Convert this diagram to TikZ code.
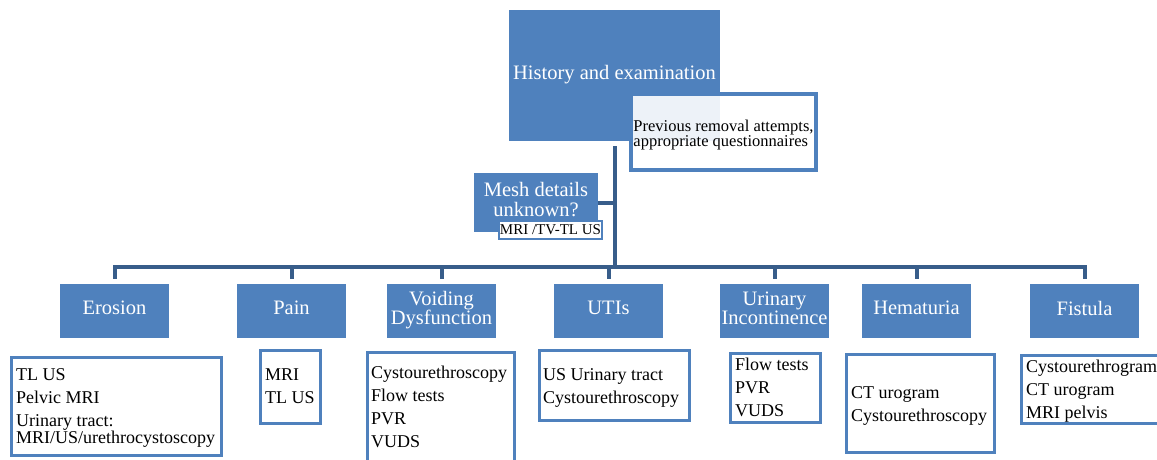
\documentclass[tikz,border=0pt]{standalone}
\usepackage{fontspec}
\setmainfont{Liberation Serif}
\definecolor{boxblue}{RGB}{79,129,189}
\definecolor{linkblue}{RGB}{56,93,138}
\tikzset{
  topic/.style={fill=boxblue, text=white, align=center, inner sep=0pt,
    font=\fontsize{20.5}{19.5}\selectfont, execute at end node={\rule[-6pt]{0pt}{6pt}}},
  testbox/.style={draw=boxblue, line width=3.5pt, fill=white, inner sep=0pt},
  testlist/.style={anchor=north west, align=left, inner sep=0pt,
    font=\fontsize{18}{23}\selectfont},
  link/.style={draw=linkblue, line width=4pt},
}
\begin{document}
\begin{tikzpicture}[x=1pt, y=-1pt]
   \useasboundingbox (0,0) rectangle (1157,459);
   \clip (0,0) rectangle (1157,459);
   % top of the tree
   \node[topic, minimum width=211pt, minimum height=131pt] (hist) at (614.5,75.5) {History and examination};
   \node[testbox, fill opacity=0.9, text opacity=1, minimum width=185pt, minimum height=76pt, align=left,
     font=\fontsize{16.5}{15.5}\selectfont] (prev) at (723.5,132) {\rule{0pt}{18pt}Previous removal attempts,\\appropriate questionnaires};
   \coordinate (bar) at (614.5,267);
   \draw[link] ([yshift=-5pt]hist.south) -- (bar);
   % mesh details
   \node[topic, minimum width=124pt, minimum height=59pt] (mesh) at (536,202.5) {Mesh details\\unknown?};
   \node[draw=boxblue, line width=2.5pt, fill=white, inner sep=1pt, minimum width=102pt, minimum height=18pt,
     font=\fontsize{15}{15}\selectfont] (meshtest) at (550.5,230) {MRI /TV-TL US};
   \draw[link] (mesh.east |- 0,203) -- (bar |- 0,203);
   % second row
   \foreach \name/\x/\txt in {ero/114.5/Erosion, pain/291.5/Pain, void/441.5/{Voiding\\Dysfunction},
       uti/608.5/UTIs, urin/774.5/{Urinary\\Incontinence}, hema/916.5/Hematuria, fist/1084.5/Fistula}
   {
     \node[topic, minimum width=109pt, minimum height=54pt] (\name) at (\x,311) {\txt};
     \draw[link] (bar) -| ([yshift=5pt]\name.north);
   }
   % tests
   \node[testbox, minimum width=210pt, minimum height=98pt] (erotest) at (116.5,406.5) {};
   \node[testlist] (erolist) at (16,368) {TL US\\Pelvic MRI\\Urinary tract:\\[-6pt]MRI/US/urethrocystoscopy};
   \node[testbox, minimum width=60pt, minimum height=73pt] (paintest) at (290.5,387) {};
   \node[testlist] (painlist) at (265,369) {MRI\\TL US};
   \node[testbox, minimum width=147pt, minimum height=116pt] (voidtest) at (441,410.5) {};
   \node[testlist] (voidlist) at (371,366) {Cystourethroscopy\\Flow tests\\PVR\\VUDS};
   \node[testbox, minimum width=150pt, minimum height=70pt] (utitest) at (614.5,385.5) {};
   \node[testlist] (utilist) at (543,368) {US Urinary tract\\Cystourethroscopy};
   \node[testbox, minimum width=90pt, minimum height=69pt] (urintest) at (775.5,388) {};
   \node[testlist] (urinlist) at (735,358) {Flow tests\\PVR\\VUDS};
   \node[testbox, minimum width=148pt, minimum height=98pt] (hematest) at (920.5,403.5) {};
   \node[testlist] (hemalist) at (851,386) {CT urogram\\Cystourethroscopy};
   \node[testbox, minimum width=152pt, minimum height=68pt] (fisttest) at (1097.5,389.5) {};
   \node[testlist] (fistlist) at (1026,360) {Cystourethrogram\\CT urogram\\MRI pelvis};
\end{tikzpicture}
\end{document}
